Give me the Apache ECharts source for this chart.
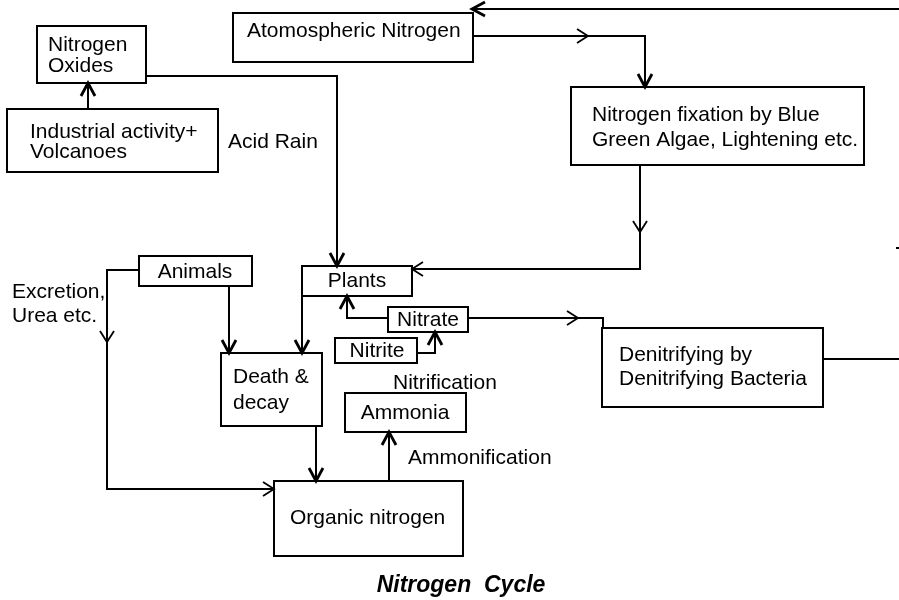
<!DOCTYPE html>
<html><head><meta charset="utf-8">
<script src="https://cdn.jsdelivr.net/npm/echarts@6/dist/echarts.min.js"></script>
<style>html,body{margin:0;padding:0;background:#fff}#c{width:899px;height:600px}</style>
</head><body><div id="c"></div>
<script>
// Boxes of the diagram: [x1, y1, x2, y2] in diagram units
const boxNames = ['Nitrogen Oxides','Industrial','Atmospheric','Fixation','Animals','Plants','Nitrate','Nitrite','Death & decay','Ammonia','Organic nitrogen','Denitrifying'];
const boxRects = [
  [37,26,146,83],[7,109,218,172],[233,13,473,62],[571,87,864,165],
  [139,256,252,286],[302,266,412,296],[388,307,468,332],[335,338,417,363],
  [221,353,322,426],[345,393,466,432],[274,481,463,556],[602,328,823,407]
];
// Text labels
const labelTexts = ['Nitrogen\nOxides','Industrial activity+\nVolcanoes','Atomospheric Nitrogen',
  'Nitrogen fixation by Blue\nGreen Algae, Lightening etc.','Animals','Plants','Nitrate','Nitrite',
  'Death &\ndecay','Ammonia','Organic nitrogen','Denitrifying by\nDenitrifying Bacteria',
  'Acid Rain','Excretion,\nUrea etc.','Nitrification','Ammonification'];
const labelAnchors = [[48,56],[30,142],[247,31],[592,128],[195,272],[357,281],[428,320],[377,351],
  [233,390],[405,413],[290,518],[619,367],[228,142],[12,304],[393,383],[408,458]];
const labelAlign = ['left','left','left','left','center','center','center','center',
  'left','center','left','left','left','left','left','left'];
const labelLineHeight = [21,20,21,25,21,21,21,21,26,21,21,24,21,24,21,21];
const titleText = 'Nitrogen  Cycle';
const titleAnchor = [461,586];
// Connector polylines
const connectors = [
  [[899,9],[472,9]],
  [[473,36],[645,36],[645,87]],
  [[640,165],[640,269],[412,269]],
  [[146,76],[337,76],[337,266]],
  [[88,109],[88,83]],
  [[139,270],[107,270],[107,489],[274,489]],
  [[229,286],[229,353]],
  [[302,296],[302,353]],
  [[316,426],[316,481]],
  [[389,481],[389,432]],
  [[388,318],[347,318],[347,296]],
  [[417,353],[435,353],[435,332]],
  [[468,318],[603,318],[603,328]],
  [[823,359],[899,359]],
  [[896,248],[899,248]]
];
// Arrow heads: [x, y, direction]
const arrowTips = [[472,9],[588,36],[645,87],[640,232],[412,269],[337,266],[88,83],[107,342],
  [274,489],[229,353],[302,353],[316,481],[389,432],[347,296],[435,332],[578,318]];
const arrowDirs = ['left','right','down','down','left','down','up','down',
  'right','down','down','down','up','up','up','right'];
const arrowBold = [1,0,1,0,0,1,1,0,0,1,1,1,1,1,1,0];

const FONT = '"Liberation Sans", Arial, sans-serif';
const chart = echarts.init(document.getElementById('c'), null, {renderer:'canvas'});
const idx = n => Array.from({length:n}, (_, i) => [i]);

chart.setOption({
  animation: false,
  backgroundColor: '#fff',
  grid: {left:0, right:0, top:0, bottom:0},
  xAxis: {type:'value', min:0, max:899, show:false},
  yAxis: {type:'value', min:0, max:600, inverse:true, show:false},
  series: [
    { type:'custom', clip:false, data: idx(connectors.length),
      renderItem: (p, api) => {
        const pts = connectors[api.value(0)].map(c => api.coord(c));
        return {type:'polyline', shape:{points:pts}, style:{stroke:'#000', lineWidth:2, fill:null}};
      }},
    { type:'custom', clip:false, data: idx(boxRects.length),
      renderItem: (p, api) => {
        const r = boxRects[api.value(0)];
        const a = api.coord([r[0], r[1]]), b = api.coord([r[2], r[3]]);
        return {type:'rect', shape:{x:a[0], y:a[1], width:b[0]-a[0], height:b[1]-a[1]},
          style:{stroke:'#000', lineWidth:2, fill:'#fff'}};
      }},
    { type:'custom', clip:false, data: idx(arrowTips.length),
      renderItem: (p, api) => {
        const i = api.value(0);
        const t = api.coord(arrowTips[i]);
        const d = {left:[-1,0], right:[1,0], up:[0,-1], down:[0,1]}[arrowDirs[i]];
        const L = arrowBold[i] ? 13 : 11, W = 7;
        const bx = t[0] - d[0]*L, by = t[1] - d[1]*L;
        const px = -d[1], py = d[0];
        return {type:'polyline', shape:{points:[[bx+px*W, by+py*W],[t[0],t[1]],[bx-px*W, by-py*W]]},
          style:{stroke:'#000', lineWidth: arrowBold[i] ? 2.8 : 1.8, fill:null, lineJoin:'miter'}};
      }},
    { type:'custom', clip:false, data: idx(labelTexts.length),
      renderItem: (p, api) => {
        const i = api.value(0);
        const c = api.coord(labelAnchors[i]);
        return {type:'text', style:{text:labelTexts[i], x:c[0], y:c[1], fill:'#000',
          font:'21px ' + FONT, align:labelAlign[i], verticalAlign:'middle', lineHeight:labelLineHeight[i]}};
      }},
    { type:'custom', clip:false, data: [[0]],
      renderItem: (p, api) => {
        const c = api.coord(titleAnchor);
        return {type:'text', style:{text:titleText, x:c[0], y:c[1], fill:'#000',
          font:'italic bold 23px ' + FONT, align:'center', verticalAlign:'middle'}};
      }}
  ]
});
</script></body></html>
